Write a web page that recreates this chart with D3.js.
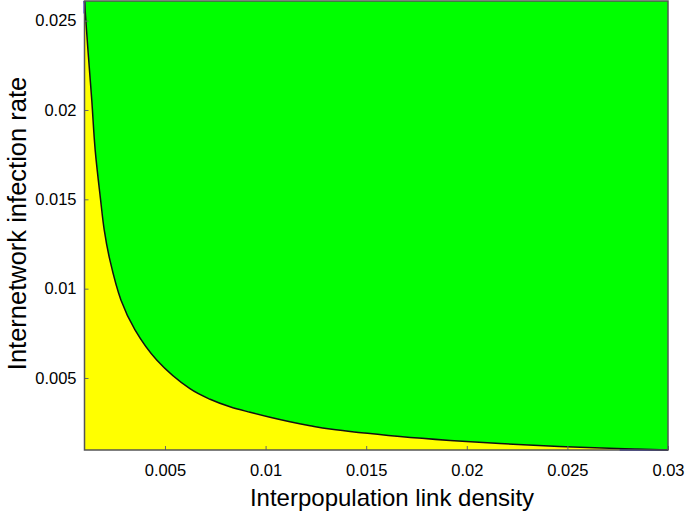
<!DOCTYPE html>
<html>
<head>
<meta charset="utf-8">
<script src="https://cdn.jsdelivr.net/npm/d3@7"></script>
<style>
  html, body { margin: 0; padding: 0; background: #fff; }
  svg { display: block; font-family: Arial, 'Liberation Sans', sans-serif; }
</style>
</head>
<body>
<div id="chart"></div>
<script>
// Threshold curve
const linkDensity = [0.001, 0.00117, 0.00136, 0.00153, 0.00180, 0.00198, 0.00226, 0.00281, 0.00351,
  0.00460, 0.00624, 0.00724, 0.00823, 0.00923, 0.01022, 0.01121, 0.01221, 0.01320,
  0.01668, 0.01917, 0.02165, 0.02563, 0.03]
const infectionRate = [0.0261, 0.02337, 0.02057, 0.01777, 0.01497, 0.01329, 0.01161, 0.00937, 0.00769,
  0.00599, 0.00440, 0.00381, 0.00339, 0.00308, 0.00280, 0.00255, 0.00233, 0.00214,
  0.00172, 0.00150, 0.00133, 0.00112, 0.00097]

// Blue line pieces that show at the two ends
const blueTopX = [0.001, 0.001]
const blueTopY = [0.0261, 0.0254]
const blueBottomX = [0.0276, 0.03]
const blueBottomY = [0.00099, 0.00097]

const xDomain = [0.001, 0.03]
const yDomain = [0.00097, 0.0261]
const xTicks = [0.005, 0.01, 0.015, 0.02, 0.025, 0.03]
const yTicks = [0.005, 0.01, 0.015, 0.02, 0.025]

const width = 685
const height = 517
const margin = { top: 1, right: 17, bottom: 67, left: 84.5 }
const innerW = width - margin.left - margin.right
const innerH = height - margin.top - margin.bottom

const svg = d3.select('#chart').append('svg')
  .attr('width', width)
  .attr('height', height)

const g = svg.append('g').attr('transform', `translate(${margin.left},${margin.top})`)

const x = d3.scaleLinear().domain(xDomain).range([0, innerW])
const y = d3.scaleLinear().domain(yDomain).range([innerH, 0])

const points = linkDensity.map((d, i) => ({ x: d, y: infectionRate[i] }))
const smooth = d3.curveCatmullRom.alpha(0.5)

// Green region above the curve
g.append('path')
  .datum(points)
  .attr('fill', '#00ff00')
  .attr('d', d3.area().x(d => x(d.x)).y0(0).y1(d => y(d.y)).curve(smooth))

// Yellow region below the curve
g.append('path')
  .datum(points)
  .attr('fill', '#ffff00')
  .attr('d', d3.area().x(d => x(d.x)).y0(innerH).y1(d => y(d.y)).curve(smooth))

const line = d3.line().x(d => x(d.x)).y(d => y(d.y))

;[[blueTopX, blueTopY], [blueBottomX, blueBottomY]].forEach(([xs, ys]) => {
  g.append('path')
    .datum(xs.map((d, i) => ({ x: d, y: ys[i] })))
    .attr('fill', 'none')
    .attr('stroke', '#1a1aff')
    .attr('stroke-width', 2)
    .attr('d', line)
})

g.append('path')
  .datum(points)
  .attr('fill', 'none')
  .attr('stroke', '#111')
  .attr('stroke-width', 1.5)
  .attr('d', line.curve(smooth))

// Axes (ticks point inward, like the original)
const xAxis = g.append('g')
  .attr('transform', `translate(0,${innerH})`)
  .call(d3.axisBottom(x).tickValues(xTicks).tickFormat(d => String(+d.toFixed(3))).tickSizeInner(-4).tickSizeOuter(0).tickPadding(14))
const yAxis = g.append('g')
  .call(d3.axisLeft(y).tickValues(yTicks).tickFormat(d => String(+d.toFixed(3))).tickSizeInner(-4).tickSizeOuter(0).tickPadding(8))

;[xAxis, yAxis].forEach(a => {
  a.select('.domain').remove()
  a.selectAll('.tick line').attr('stroke', '#666')
  a.selectAll('.tick text')
    .attr('fill', '#000')
    .attr('font-size', '16.5px')
    .attr('font-family', 'Arial, Liberation Sans, sans-serif')
})

// Box around the plot
g.append('rect')
  .attr('x', 0).attr('y', 0)
  .attr('width', innerW).attr('height', innerH)
  .attr('fill', 'none')
  .attr('stroke', '#555')
  .attr('stroke-width', 1.5)

// Axis labels
svg.append('text')
  .attr('x', 392)
  .attr('y', 506)
  .attr('text-anchor', 'middle')
  .attr('font-size', '24px')
  .attr('fill', '#000')
  .text('Interpopulation link density')

svg.append('text')
  .attr('transform', 'translate(26,223.5) rotate(-90)')
  .attr('text-anchor', 'middle')
  .attr('font-size', '25.5px')
  .attr('fill', '#000')
  .text('Internetwork infection rate')
</script>
</body>
</html>
